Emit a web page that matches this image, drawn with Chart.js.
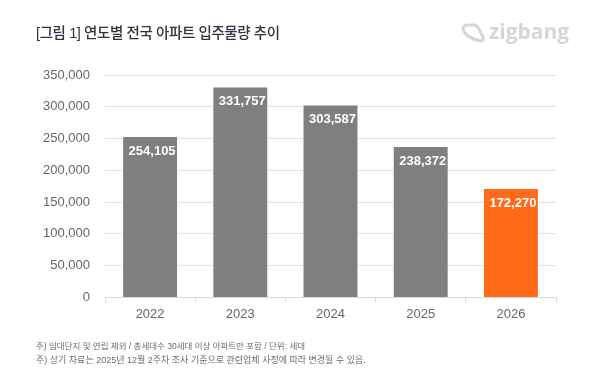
<!DOCTYPE html>
<html><head><meta charset="utf-8">
<style>
html,body{margin:0;padding:0;background:#fff;width:590px;height:382px;overflow:hidden}
#wrap{position:relative;width:590px;height:382px}
canvas{position:absolute;left:0;top:0}
.t{position:absolute;white-space:nowrap;font-family:"Liberation Sans","Noto Sans CJK KR",sans-serif}
#title{left:36px;top:21px;font-size:14.5px;font-weight:500;color:#2b3440;letter-spacing:-.4px}
.note{left:36px;color:#6b6b6b}
#logo{left:489px;top:19px;font-size:21px;font-weight:700;color:#d4d6d9;font-family:"Open Sans",sans-serif;line-height:24px}
svg{position:absolute;left:460px;top:22px}
</style></head><body>
<div id="wrap">
<canvas id="c" width="590" height="382"></canvas>
<div class="t" id="title">[그림 1] 연도별 전국 아파트 입주물량 추이</div>
<svg width="26" height="22" viewBox="0 0 26 22"><path d="M3 7 Q3 3 8 3 L14 3 Q17 3 19 7 L23 15 Q24 19 20 19 L14 17 Q8 15 5 11 Z" fill="none" stroke="#d4d6d9" stroke-width="3" stroke-linejoin="round"/></svg>
<div class="t" id="logo">zigbang</div>
<div class="t note" style="top:339px;font-size:8.5px">주) 임대단지 및 연립 제외 / 총세대수 30세대 이상 아파트만 포함 / 단위: 세대</div>
<div class="t note" style="top:353px;font-size:9px">주) 상기 자료는 2025년 12월 2주차 조사 기준으로 관련업체 사정에 따라 변경될 수 있음.</div>
</div>
<script src="https://cdn.jsdelivr.net/npm/chart.js@4"></script>
<script>
const categories=["2022","2023","2024","2025","2026"];
const values=[254105,331757,303587,238372,172270];
const barColors=["#7f7f7f","#7f7f7f","#7f7f7f","#7f7f7f","#ff6a1a"];
const tickStep=50000;
const axisMax=350000;
const labelPlugin={id:"valueLabels",afterDatasetsDraw(chart){
  const ctx=chart.ctx,meta=chart.getDatasetMeta(0);
  ctx.save();ctx.fillStyle="#fff";ctx.font='bold 13px "Liberation Sans",sans-serif';
  ctx.textAlign="center";ctx.textBaseline="middle";
  meta.data.forEach((b,i)=>{ctx.fillText(values[i].toLocaleString("en-US"),b.x+2,b.y+15);});
  ctx.restore();
}};
new Chart(document.getElementById("c"),{
 type:"bar",
 data:{labels:categories,datasets:[{data:values,backgroundColor:barColors,borderColor:"#fff",borderWidth:1,categoryPercentage:1,barPercentage:0.62}]},
 options:{responsive:false,animation:false,
  layout:{padding:{left:0,top:75,right:34,bottom:56}},
  plugins:{legend:{display:false},tooltip:{enabled:false}},
  scales:{
   x:{grid:{display:true,drawOnChartArea:false,color:"#d9d9d9",tickLength:5,lineWidth:1},border:{color:"#d9d9d9"},
      ticks:{color:"#666666",font:{family:'"Liberation Sans",sans-serif',size:13},padding:4}},
   y:{min:0,max:axisMax,afterFit(s){s.width=105;},grid:{color:"#e0e0e0",lineWidth:1,drawTicks:false},border:{display:false},
      ticks:{stepSize:tickStep,color:"#666666",padding:15,font:{family:'"Liberation Sans",sans-serif',size:13},callback:v=>v.toLocaleString("en-US")}}
  }},
 plugins:[labelPlugin]
});
</script>
</body></html>
